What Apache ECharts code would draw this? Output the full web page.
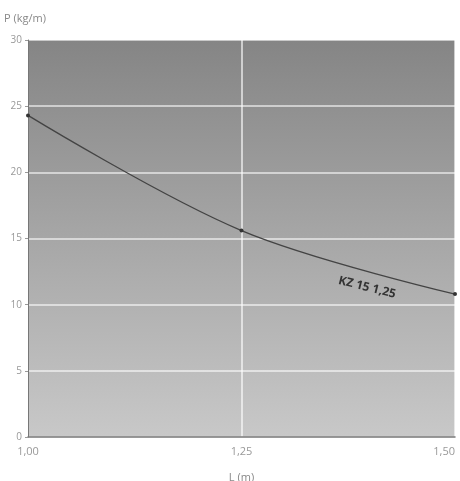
<!DOCTYPE html>
<html><head><meta charset="utf-8">
<script src="https://cdn.jsdelivr.net/npm/echarts@6/dist/echarts.min.js"></script>
<style>html,body{margin:0;padding:0;background:#fff}#c{width:460px;height:481px}</style>
</head><body><div id="c"></div>
<script>
const xTicks = [1.00, 1.25, 1.50];
const yTicks = [0, 5, 10, 15, 20, 25, 30];
const seriesName = 'KZ 15 1,25';
const lengths = [1.00, 1.25, 1.50];
const loads = [24.3, 15.6, 10.8];
const labelAt = [1.397, 11.3];

const chart = echarts.init(document.getElementById('c'));
const fmt = v => v.toFixed(2).replace('.', ',');
chart.setOption({
  animation: false,
  grid: {
    left: 28, right: 5, top: 40, bottom: 44, show: true, borderWidth: 0,
    outerBoundsMode: 'none', containLabel: false,
    backgroundColor: new echarts.graphic.LinearGradient(0, 0, 0, 1, [
      {offset: 0, color: '#858585'}, {offset: 1, color: '#c8c8c8'}
    ])
  },
  xAxis: {
    type: 'value', min: 1.00, max: 1.50, interval: 0.25,
    name: 'L (m)', nameLocation: 'middle', nameGap: 35,
    nameTextStyle: {color: '#888', fontSize: 11, fontFamily: 'Open Sans'},
    axisLine: {show: true, lineStyle: {color: '#777', width: 1.5}},
    axisTick: {show: false},
    axisLabel: {color: '#999', fontSize: 11, fontFamily: 'Open Sans', margin: 9, formatter: fmt,
      overflow: 'none', width: 60, alignMaxLabel: 'right'},
    splitLine: {show: true, lineStyle: {color: 'rgba(255,255,255,0.6)', width: 2}}
  },
  yAxis: {
    type: 'value', min: 0, max: 30, interval: 5,
    name: 'P (kg/m)', nameLocation: 'end', nameGap: 16,
    nameTextStyle: {color: '#888', fontSize: 11, fontFamily: 'Open Sans', align: 'left', padding: [0, 0, 0, -24]},
    axisLine: {show: true, lineStyle: {color: '#777', width: 1}},
    axisTick: {show: true, length: 3, lineStyle: {color: '#999'}},
    axisLabel: {color: '#999', fontSize: 10, fontFamily: 'Open Sans', margin: 6},
    splitLine: {show: true, lineStyle: {color: 'rgba(255,255,255,0.75)', width: 1.5}}
  },
  series: [{
    name: seriesName, type: 'line', smooth: 0.35,
    data: lengths.map((x, i) => [x, loads[i]]),
    symbol: 'circle', symbolSize: 4,
    itemStyle: {color: '#333'},
    lineStyle: {color: '#444', width: 1.3},
    markPoint: {
      symbol: 'circle', symbolSize: 1,
      itemStyle: {color: 'rgba(0,0,0,0)'},
      data: [{coord: labelAt, label: {
        show: true, position: 'inside', formatter: seriesName, rotate: -14,
        color: '#333', fontSize: 12, fontWeight: 'bold', fontFamily: 'Open Sans'
      }}]
    }
  }]
});
</script></body></html>
